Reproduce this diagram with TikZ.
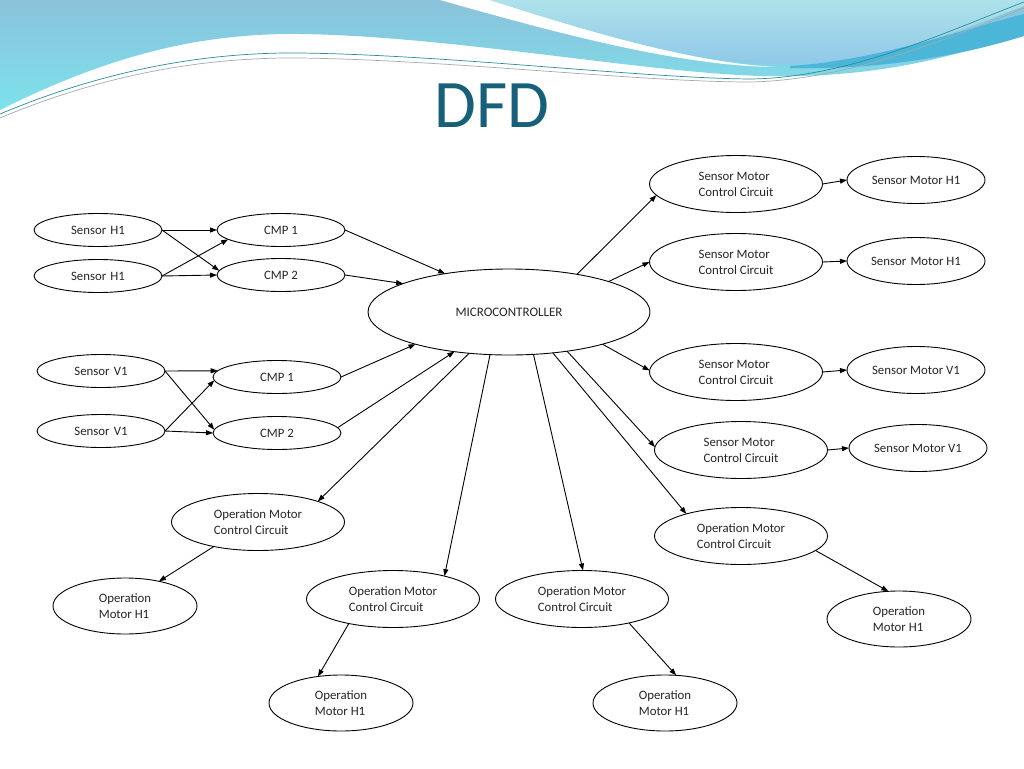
\documentclass[tikz,border=0pt]{standalone}
\usepackage{fontspec}
\setmainfont{Carlito}
\usetikzlibrary{arrows.meta,shapes.geometric}
\definecolor{titleteal}{HTML}{17607A}
\definecolor{bandtop}{HTML}{8AC2DA}
\definecolor{bandbot}{HTML}{7DE2EC}
\definecolor{uptop}{HTML}{AEE2EA}
\definecolor{upbot}{HTML}{8FC7E9}
\definecolor{stripe}{HTML}{4CB6D9}
\definecolor{linea}{HTML}{2A8C9C}
\definecolor{lineb}{HTML}{A0AAB0}
\definecolor{inktext}{HTML}{262626}
\tikzset{
  el/.style={ellipse,draw,line width=0.9pt,inner sep=0pt,outer sep=0pt,
    text=inktext,font=\fontsize{12.8}{16}\selectfont,align=center},
  smal/.style={el,minimum width=128pt,minimum height=33pt},
  cc/.style={el,minimum width=173pt,minimum height=57pt,align=left},
  mot/.style={el,minimum width=138pt,minimum height=47pt},
  oph/.style={el,minimum width=144pt,minimum height=56pt,align=left},
  flow/.style={line width=0.9pt,-{Triangle[length=7pt,width=5pt]}}
}
\begin{document}
\begin{tikzpicture}[x=1pt,y=-1pt]
\useasboundingbox (0,0) rectangle (1024,768);
\fill[white] (0,0) rectangle (1024,768);
% header decoration
\shade[top color=bandtop,bottom color=bandbot]
  (0,0) -- (0,110) .. controls (110,55) and (200,33) .. (300,34)
  .. controls (450,36) and (640,72) .. (760,76)
  .. controls (880,79) and (960,55) .. (1024,32) -- (1024,0) -- cycle;
\fill[white] (440,0) .. controls (560,34) and (680,66) .. (775,67)
  .. controls (690,62) and (590,32) .. (490,0) -- cycle;
\shade[top color=uptop,bottom color=upbot]
  (490,0) .. controls (590,32) and (690,62) .. (775,64)
  .. controls (880,66) and (960,30) .. (1024,6) -- (1024,0) -- cycle;
\fill[stripe] (790,66) .. controls (880,60) and (960,30) .. (1024,14)
  -- (1024,36) .. controls (960,56) and (880,70) .. (790,68) -- cycle;
\draw[linea,line width=0.7pt] (0,114) .. controls (100,72) and (200,52) .. (300,53)
  .. controls (450,55) and (640,78) .. (750,79)
  .. controls (850,78) and (950,30) .. (1024,2);
\draw[lineb,line width=0.7pt] (0,118) .. controls (100,76) and (200,57) .. (300,58)
  .. controls (450,60) and (640,82) .. (750,82)
  .. controls (850,80) and (950,38) .. (1024,8);
\node[text=titleteal,font=\fontsize{68}{70}\selectfont] (title) at (492,106) {DFD};
% nodes
\node[smal] (sh1a) at (98,230) {Sensor\,\,H1};
\node[smal] (sh1b) at (98,276) {Sensor\,\,H1};
\node[smal] (cmp1a) at (281,230) {CMP 1};
\node[smal] (cmp2a) at (281,275) {CMP 2};
\node[smal] (sv1a) at (101,371) {Sensor\,\,V1};
\node[smal] (sv1b) at (101,431) {Sensor\,\,V1};
\node[smal] (cmp1b) at (277,377) {CMP 1};
\node[smal] (cmp2b) at (277,433) {CMP 2};
\node[el,minimum width=282pt,minimum height=86pt,font=\fontsize{13}{15}\selectfont] (mc) at (509,312) {MICROCONTROLLER};
\node[cc] (smcc1) at (736,184) {Sensor Motor\\Control Circuit};
\node[cc] (smcc2) at (736,262) {Sensor Motor\\Control Circuit};
\node[cc] (smcc3) at (736,372) {Sensor Motor\\Control Circuit};
\node[cc] (smcc4) at (741,450) {Sensor Motor\\Control Circuit};
\node[mot] (smh1a) at (916,180) {Sensor Motor H1};
\node[mot] (smh1b) at (916,261) {Sensor\,\,Motor H1};
\node[mot] (smv1a) at (916,370) {Sensor Motor V1};
\node[mot] (smv1b) at (918,448) {Sensor Motor V1};
\node[cc] (omcc1) at (258,522) {Operation Motor\\Control Circuit};
\node[cc] (omcc2) at (393,599) {Operation Motor\\Control Circuit};
\node[cc] (omcc3) at (582,599) {Operation Motor\\Control Circuit};
\node[cc] (omcc4) at (741,536) {Operation Motor\\Control Circuit};
\node[oph] (omh1) at (125,606) {Operation\\Motor H1};
\node[oph] (omh2) at (341,703) {Operation\\Motor H1};
\node[oph] (omh3) at (665,703) {Operation\\Motor H1};
\node[oph] (omh4) at (899,619) {Operation\\Motor H1};
% connectors
\draw[flow] (sh1a.east) -- (cmp1a.west);
\draw[flow] (sh1a.east) -- (cmp2a.176);
\draw[flow] (sh1b.east) -- (cmp1a.190);
\draw[flow] (sh1b.east) -- (cmp2a.west);
\draw[flow] (sv1a.east) -- (cmp1b.174);
\draw[flow] (sv1a.east) -- (cmp2b.177);
\draw[flow] (sv1b.east) -- (cmp1b.183);
\draw[flow] (sv1b.east) -- (cmp2b.west);
\draw[flow] (cmp1a.east) -- (mc.149);
\draw[flow] (cmp2a.east) -- (mc.165);
\draw[flow] (cmp1b.east) -- (mc.199);
\draw[flow] (cmp2b.5) -- (mc.216);
\draw[flow] (mc.29) -- (smcc1.188);
\draw[flow] (mc.17) -- (smcc2.west);
\draw[flow] (mc.341) -- (smcc3.179);
\draw[flow] (mc.326) -- (smcc4.178);
\draw[flow] (smcc1.east) -- (smh1a.west);
\draw[flow] (smcc2.east) -- (smh1b.west);
\draw[flow] (smcc3.east) -- (smv1a.west);
\draw[flow] (smcc4.east) -- (smv1b.west);
\draw[flow] (mc.226) -- (omcc1.19);
\draw[flow] (mc.246) -- (omcc2.24);
\draw[flow] (mc.300) -- (omcc3.88);
\draw[flow] (mc.317) -- (omcc4.158);
\draw[flow] (omcc1.209) -- (omh1.36);
\draw[flow] (omcc2.209) -- (omh2.131);
\draw[flow] (omcc3.333) -- (omh3.68);
\draw[flow] (omcc4.349) -- (omh4.111);
\end{tikzpicture}
\end{document}
